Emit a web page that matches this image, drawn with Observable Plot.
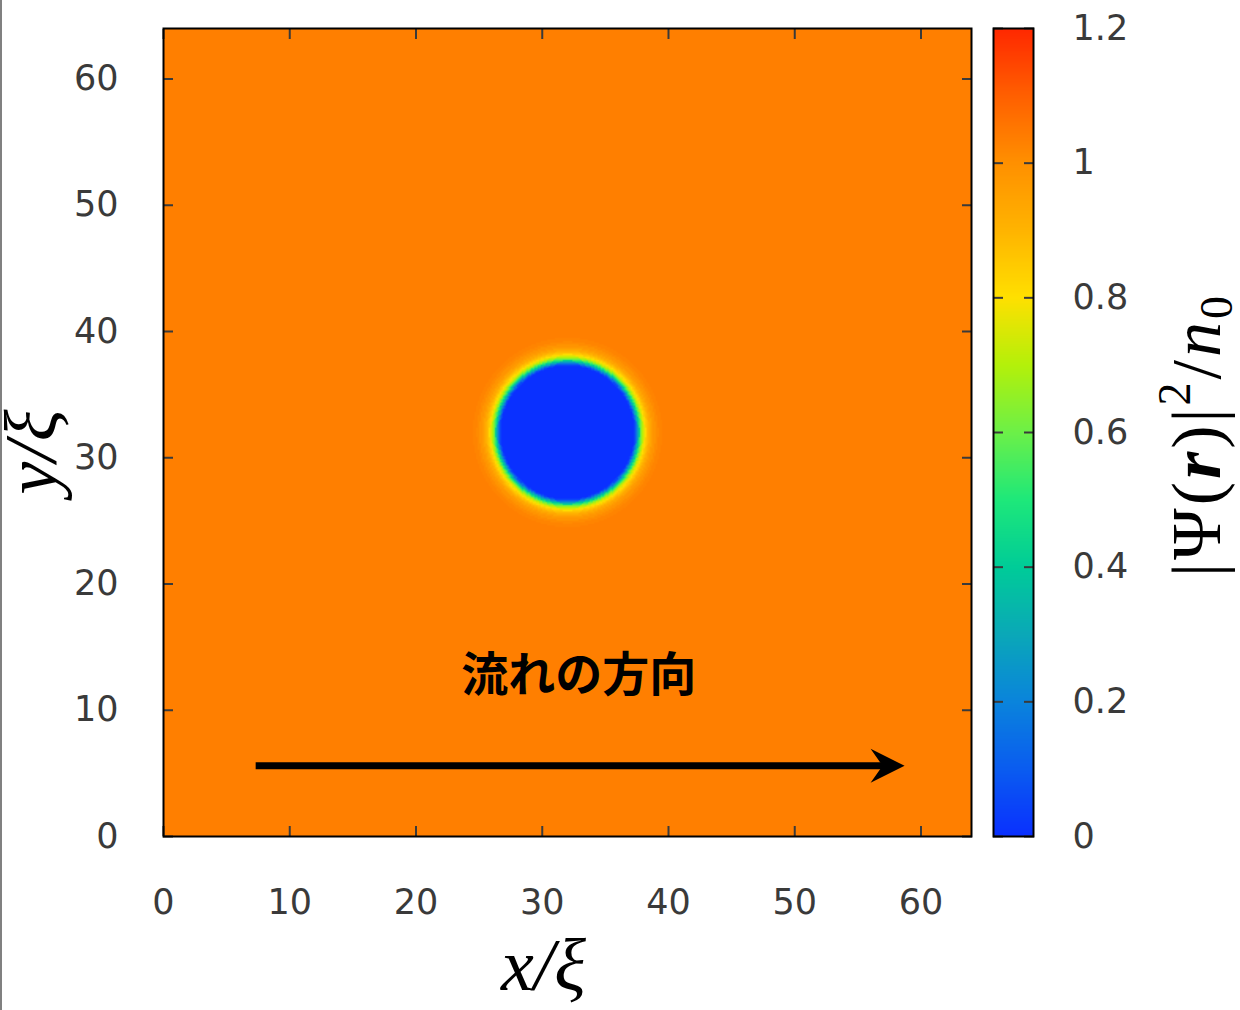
<!DOCTYPE html>
<html><head><meta charset="utf-8">
<script src="https://cdn.jsdelivr.net/npm/d3@7"></script>
<script src="https://cdn.jsdelivr.net/npm/@observablehq/plot@0.6"></script>
<style>
body{margin:0;background:#fff;}
#wrap{position:relative;width:1240px;height:1010px;overflow:hidden;background:#fff}
#wrap svg{overflow:visible;position:absolute;top:0}
#edge{position:absolute;left:0;top:0;width:2px;height:1010px;background:#808080}
</style></head><body><div id="wrap"><div id="edge"></div></div>
<script>
// ---- data ----
const xTicks = [0, 10, 20, 30, 40, 50, 60];
const yTicks = [0, 10, 20, 30, 40, 50, 60];
const cTicks = [0, 0.2, 0.4, 0.6, 0.8, 1, 1.2];
const domainX = [0, 64];
const domainY = [0, 64];
const domainC = [0, 1.2];
const obstacleCenter = [32, 32];
// radial density profile |Psi|^2/n0 around the obstacle (outer edge of each ring, value)
const profileR = [5.3, 5.4, 5.5, 5.6, 5.7, 5.8, 5.9, 6.0, 6.1, 6.2, 6.3, 6.4, 6.5, 6.65, 6.8, 7.0, 7.2, 7.5];
const profileN = [0.0, 0.05, 0.15, 0.28, 0.40, 0.52, 0.62, 0.70, 0.76, 0.81, 0.85, 0.88, 0.91, 0.94, 0.97, 0.99, 1.01, 1.025];
const bulkDensity = 1.035;
const colorStops = [0, 0.1, 0.2, 0.3, 0.4, 0.5, 0.6, 0.7, 0.8, 0.9, 1.0, 1.1, 1.2];
const colorRange = ["#0a30ff", "#0a5cf0", "#0a84dc", "#0aa8b8", "#00cc98", "#1ee87a", "#6cf048", "#b4f00a", "#ffe000", "#ffb400", "#ff9000", "#ff6000", "#ff2800"];
const flowNote = [{x: 32.9, y: 12.7, text: "流れの方向"}];
const flowArrow = [{x1: 7.3, x2: 58.7, y: 5.6}];
const xLabel = "x/ξ";
const yLabel = "y/ξ";

// ---- grid built from the radial profile ----
const N = 512;
const cell = (domainX[1] - domainX[0]) / N;
const values = new Float64Array(N * N);
for (let j = 0; j < N; j++) {
  for (let i = 0; i < N; i++) {
    const x = domainX[0] + (i + 0.5) * cell, y = domainY[0] + (j + 0.5) * cell;
    const r = Math.hypot(x - obstacleCenter[0], y - obstacleCenter[1]);
    let v = bulkDensity;
    for (let k = 0; k < profileR.length; k++) { if (r <= profileR[k]) { v = profileN[k]; break; } }
    values[j * N + i] = v;
  }
}

const colorOpts = {type: "linear", domain: colorStops, range: colorRange, interpolate: "rgb", clamp: true};
const tickFont = {fontFamily: "DejaVu Sans", fontSize: "35px", color: "#3a3a3a"};
const none = () => "";
const serif = "'Liberation Serif', 'Times New Roman', serif";

const arrowHead = {draw(ctx) { ctx.moveTo(0, 0); ctx.lineTo(-34, -17); ctx.lineTo(-22, 0); ctx.lineTo(-34, 17); ctx.closePath(); }};

const main = Plot.plot({
  width: 1240, height: 1010,
  marginLeft: 163, marginRight: 269, marginTop: 28, marginBottom: 174,
  x: {domain: domainX}, y: {domain: domainY},
  color: colorOpts,
  style: {...tickFont, background: "transparent"},
  marks: [
    Plot.raster(values, {width: N, height: N, x1: domainX[0], x2: domainX[1], y1: domainY[0], y2: domainY[1], fill: Plot.identity, imageRendering: "auto"}),
    Plot.axisX(xTicks, {anchor: "bottom", tickSize: -10, strokeWidth: 2, tickFormat: none, label: null}),
    Plot.axisX(xTicks, {anchor: "top", tickSize: -10, strokeWidth: 2, tickFormat: none, label: null}),
    Plot.axisY(yTicks, {anchor: "left", tickSize: -10, strokeWidth: 2, tickFormat: none, label: null}),
    Plot.axisY(yTicks, {anchor: "right", tickSize: -10, strokeWidth: 2, tickFormat: none, label: null}),
    Plot.axisX(xTicks, {anchor: "bottom", tickSize: 0, tickPadding: 53, label: null, fill: "#3a3a3a"}),
    Plot.axisY(yTicks, {anchor: "left", tickSize: 0, tickPadding: 45, label: null, fill: "#3a3a3a"}),
    Plot.frame({stroke: "#000", strokeWidth: 2}),
    Plot.arrow(flowArrow, {x1: "x1", x2: "x2", y1: "y", y2: "y", stroke: "#000", strokeWidth: 7, strokeLinecap: "butt", headLength: 0, insetEnd: 20}),
    Plot.dot(flowArrow, {x: "x2", y: "y", symbol: arrowHead, r: 5, fill: "#000", stroke: null}),
    Plot.text(flowNote, {x: "x", y: "y", text: "text", fontFamily: "Noto Sans CJK JP", fontWeight: "bold", fontSize: 47, fill: "#000"}),
    Plot.text([xLabel], {text: d => d, frameAnchor: "bottom", dx: -24, dy: 153, lineAnchor: "bottom", fontFamily: serif, fontStyle: "italic", fontSize: 74, fill: "#000"})
  ]
});
main.style.left = "0px";
document.getElementById("wrap").appendChild(main);

const barLeft = 983;
const bar = Plot.plot({
  width: 1240 - barLeft, height: 1010,
  marginLeft: 10, marginRight: 1240 - barLeft - 10 - 40, marginTop: 28, marginBottom: 174,
  x: {domain: [0, 1], axis: null}, y: {domain: domainC},
  color: colorOpts,
  style: {...tickFont, background: "transparent"},
  marks: [
    Plot.raster({fill: (x, y) => y, x1: 0, x2: 1, y1: domainC[0], y2: domainC[1], width: 1, height: 600, imageRendering: "auto"}),
    Plot.axisY(cTicks, {anchor: "left", tickSize: -10, strokeWidth: 2, tickFormat: none, label: null}),
    Plot.axisY(cTicks, {anchor: "right", tickSize: -10, strokeWidth: 2, tickFormat: none, label: null}),
    Plot.axisY(cTicks, {anchor: "right", tickSize: 0, tickPadding: 39, label: null, fill: "#3a3a3a", tickFormat: d => String(d)}),
    Plot.frame({stroke: "#000", strokeWidth: 2})
  ]
});
bar.style.left = barLeft + "px";
document.getElementById("wrap").appendChild(bar);

// y-axis title and colorbar title
const svg = d3.create("svg").attr("width", 1240).attr("height", 1010).style("left", "0px").style("pointer-events", "none");
svg.append("text").attr("transform", "translate(56,452) rotate(-90)").attr("text-anchor", "middle")
  .attr("font-family", serif).attr("font-style", "italic").attr("font-size", 74).attr("fill", "#000").text(yLabel);
const t = svg.append("text").attr("transform", "translate(1220,435) rotate(-90)").attr("text-anchor", "middle")
  .attr("font-family", serif).attr("font-size", 70).attr("fill", "#000").attr("letter-spacing", 3);
t.append("tspan").text("|Ψ(");
t.append("tspan").attr("font-weight", "bold").attr("font-style", "italic").text("r");
t.append("tspan").text(")|");
t.append("tspan").attr("font-size", 46).attr("dy", -30).text("2");
t.append("tspan").attr("dy", 30).text("/");
t.append("tspan").attr("font-style", "italic").text("n");
t.append("tspan").attr("font-size", 46).attr("dy", 12).text("0");
document.getElementById("wrap").appendChild(svg.node());
</script></body></html>
